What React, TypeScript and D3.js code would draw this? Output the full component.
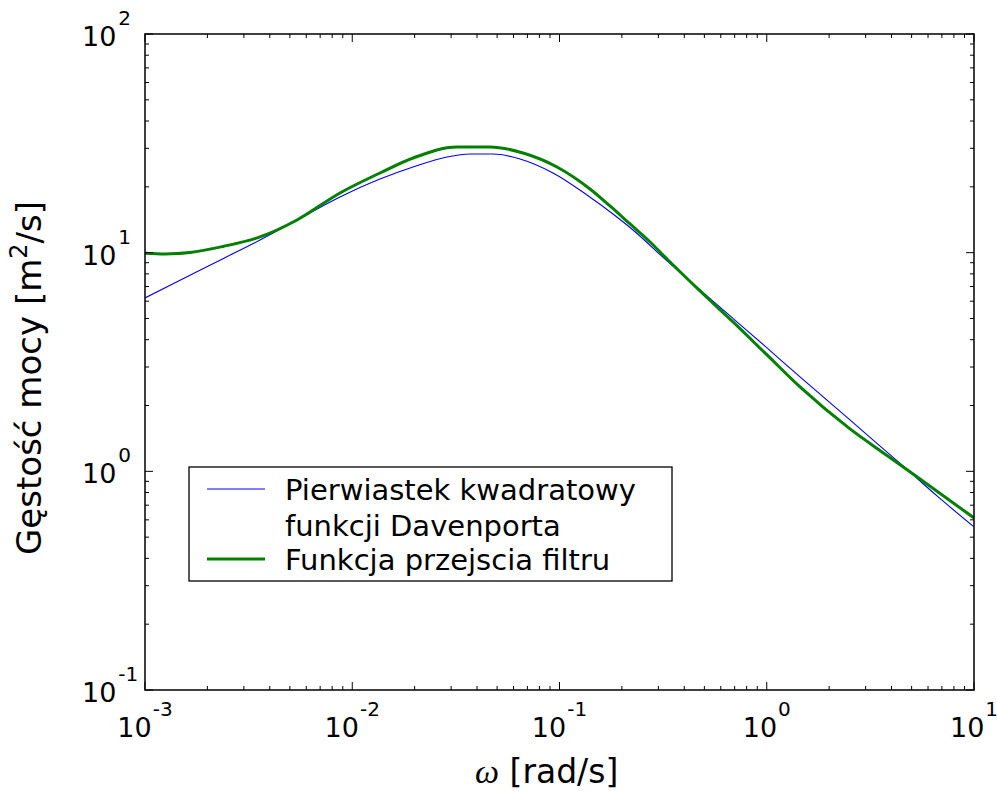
import * as d3 from "d3";

const WIDTH = 997;
const HEIGHT = 791;
const PLOT = { left: 145, right: 974, top: 34, bottom: 690 };

// Square root of the Davenport spectrum (blue, thin)
const OMEGA_DAV = [
  0.001, 0.001526, 0.002378, 0.003588, 0.005413, 0.008728, 0.01361, 0.01965, 0.02866, 0.037, 0.04777,
  0.0645, 0.09304, 0.1357, 0.1812, 0.2263, 0.3302, 0.4764, 0.6875, 1.003, 1.447, 2.521, 3.15, 4.544, 6.63, 10,
];
const PSD_DAV = [
  6.208, 7.598, 9.388, 11.43, 14.11, 17.98, 21.73, 24.65, 27.39, 28.27, 28.27, 26.82, 23.14, 18.36, 15.03,
  12.7, 9.165, 6.753, 5.003, 3.667, 2.702, 1.718, 1.429, 1.0585, 0.7717, 0.5568,
];

// Filter transfer function (green, thick)
const OMEGA_FILTER = [
  0.001, 0.001249, 0.001649, 0.002378, 0.003588, 0.005413, 0.008728, 0.01361, 0.01965, 0.03202, 0.0462,
  0.06669, 0.09726, 0.1403, 0.1752, 0.2189, 0.2734, 0.3302, 0.4764, 0.6875, 1.003, 1.447, 2.521, 3.805,
  5.489, 10,
];
const PSD_FILTER = [
  9.94, 9.864, 10.02, 10.68, 11.8, 14.11, 18.75, 23.14, 27.1, 30.43, 30.43, 28.57, 24.65, 19.55, 16.35,
  13.53, 11.19, 9.358, 6.682, 4.823, 3.406, 2.432, 1.563, 1.182, 0.9231, 0.6121,
];

const X_DECADES = [-3, -2, -1, 0, 1];
const Y_DECADES = [-1, 0, 1, 2];
const LEGEND_LINES = [["Pierwiastek kwadratowy", "funkcji Davenporta"], ["Funkcja przejscia filtru"]];

const FONT = "DejaVu Sans, Verdana, sans-serif";
const BLUE = "#0000ff";
const GREEN = "#008000";

const x = d3.scaleLog().domain([1e-3, 10]).range([PLOT.left, PLOT.right]);
const y = d3.scaleLog().domain([0.1, 100]).range([PLOT.bottom, PLOT.top]);

function minorTicks(decades: number[]): number[] {
  const out: number[] = [];
  decades.slice(0, -1).forEach((e) => {
    for (let k = 2; k <= 9; k++) out.push(k * Math.pow(10, e));
  });
  return out;
}

const line = d3
  .line<[number, number]>()
  .x((d) => x(d[0]))
  .y((d) => y(d[1]))
  .curve(d3.curveMonotoneX);

export default function App() {
  const davPts = OMEGA_DAV.map((w, i) => [w, PSD_DAV[i]] as [number, number]);
  const filPts = OMEGA_FILTER.map((w, i) => [w, PSD_FILTER[i]] as [number, number]);
  const xMajor = X_DECADES.map((e) => Math.pow(10, e));
  const yMajor = Y_DECADES.map((e) => Math.pow(10, e));
  const xMinor = minorTicks(X_DECADES);
  const yMinor = minorTicks(Y_DECADES);
  const MAJ = 8;
  const MIN = 4;

  return (
    <svg
      width={WIDTH}
      height={HEIGHT}
      style={{ position: "absolute", left: 0, top: 0, background: "#fff" }}
      fontFamily={FONT}
    >
      <defs>
        <clipPath id="plot-clip">
          <rect x={PLOT.left} y={PLOT.top} width={PLOT.right - PLOT.left} height={PLOT.bottom - PLOT.top} />
        </clipPath>
      </defs>

      <g clipPath="url(#plot-clip)" fill="none" strokeLinejoin="round">
        <path d={line(davPts) ?? ""} stroke={BLUE} strokeWidth={1.1} />
        <path d={line(filPts) ?? ""} stroke={GREEN} strokeWidth={3} />
      </g>

      {/* ticks on all four sides, pointing inward */}
      <g stroke="#000" strokeWidth={1}>
        {xMajor.concat(xMinor).map((v, i) => {
          const len = i < xMajor.length ? MAJ : MIN;
          const px = x(v);
          return (
            <g key={`xt${i}`}>
              <line x1={px} x2={px} y1={PLOT.bottom} y2={PLOT.bottom - len} />
              <line x1={px} x2={px} y1={PLOT.top} y2={PLOT.top + len} />
            </g>
          );
        })}
        {yMajor.concat(yMinor).map((v, i) => {
          const len = i < yMajor.length ? MAJ : MIN;
          const py = y(v);
          return (
            <g key={`yt${i}`}>
              <line x1={PLOT.left} x2={PLOT.left + len} y1={py} y2={py} />
              <line x1={PLOT.right} x2={PLOT.right - len} y1={py} y2={py} />
            </g>
          );
        })}
      </g>

      <rect
        x={PLOT.left}
        y={PLOT.top}
        width={PLOT.right - PLOT.left}
        height={PLOT.bottom - PLOT.top}
        fill="none"
        stroke="#000"
        strokeWidth={1.5}
      />

      {/* x tick labels */}
      {X_DECADES.map((e) => (
        <text key={`xl${e}`} x={x(Math.pow(10, e))} y={737} textAnchor="middle" fontSize={27}>
          10
          <tspan dy={-21} fontSize={20} dx={1}>
            {e}
          </tspan>
        </text>
      ))}

      {/* y tick labels */}
      {Y_DECADES.map((e) => (
        <text key={`yl${e}`} x={82} y={y(Math.pow(10, e)) + 12} fontSize={27}>
          10
          <tspan dy={-21} fontSize={20} dx={2}>
            {e}
          </tspan>
        </text>
      ))}

      {/* axis labels */}
      <text x={475} y={783} fontSize={33}>
        <tspan fontFamily="Liberation Serif, serif" fontStyle="italic" fontSize={34}>
          ω
        </tspan>
        <tspan> [rad/s]</tspan>
      </text>
      <text transform={`translate(41,378) rotate(-90)`} textAnchor="middle" fontSize={34}>
        Gęstość mocy [m
        <tspan dy={-14} fontSize={24}>
          2
        </tspan>
        <tspan dy={14}>/s]</tspan>
      </text>

      {/* legend */}
      <g>
        <rect x={189} y={467} width={483} height={114} fill="#fff" stroke="#000" strokeWidth={1.3} />
        <line x1={207} x2={265} y1={489} y2={489} stroke={BLUE} strokeWidth={1.1} />
        <line x1={207} x2={265} y1={559} y2={559} stroke={GREEN} strokeWidth={3} />
        <text x={285} y={500} fontSize={29}>
          {LEGEND_LINES[0][0]}
        </text>
        <text x={285} y={536} fontSize={29}>
          {LEGEND_LINES[0][1]}
        </text>
        <text x={285} y={570} fontSize={29}>
          {LEGEND_LINES[1][0]}
        </text>
      </g>
    </svg>
  );
}
